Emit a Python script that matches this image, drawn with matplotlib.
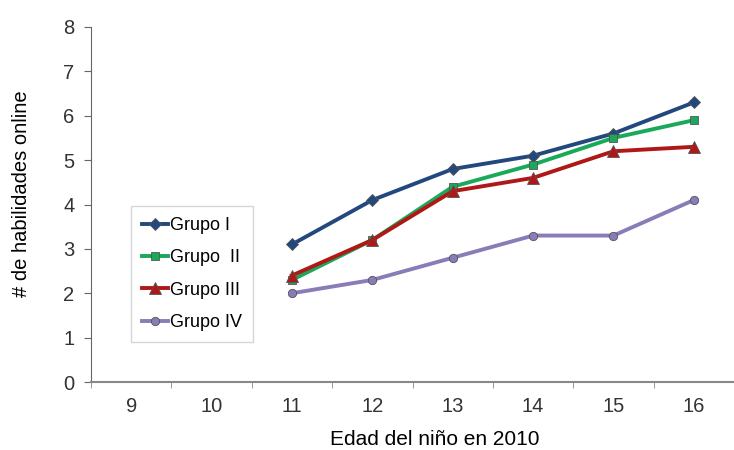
import matplotlib.pyplot as plt
import numpy as np

# Edades (categorías del eje x) y número medio de habilidades por grupo.
edades = ["9", "10", "11", "12", "13", "14", "15", "16"]
edades_grupos = ["11", "12", "13", "14", "15", "16"]
grupo_1 = [3.1, 4.1, 4.8, 5.1, 5.6, 6.3]
grupo_2 = [2.3, 3.2, 4.4, 4.9, 5.5, 5.9]
grupo_3 = [2.4, 3.2, 4.3, 4.6, 5.2, 5.3]
grupo_4 = [2.0, 2.3, 2.8, 3.3, 3.3, 4.1]
etiquetas = ["Grupo I", "Grupo  II", "Grupo III", "Grupo IV"]


def main() -> None:
    plt.rcParams["font.family"] = ["Liberation Sans", "DejaVu Sans"]

    fig = plt.figure(figsize=(7.34, 4.5), dpi=100)
    ax = fig.add_axes([91 / 734, 68 / 450, 643 / 734, 355 / 450])

    xs = [edades.index(e) for e in edades_grupos]
    series = [
        (grupo_1, "#23487e", "D", 6),
        (grupo_2, "#1aa85a", "s", 6),
        (grupo_3, "#b01818", "^", 8),
        (grupo_4, "#8a7cb6", "o", 6),
    ]
    for (datos, color, marker, ms), label in zip(series, etiquetas):
        ax.plot(
            xs,
            datos,
            color=color,
            lw=2.8,
            marker=marker,
            ms=ms,
            mfc=color,
            mec="#555555",
            mew=0.6,
            label=label,
        )

    ax.set_xlim(-0.5, 7.45)
    ax.set_ylim(0, 8)
    ax.set_yticks(range(0, 9))
    ax.set_xticks(range(len(edades)))
    ax.set_xticklabels(edades)
    ax.set_xticks(np.arange(-0.5, len(edades), 1.0), minor=True)
    ax.tick_params(axis="x", which="major", length=0, pad=11, labelsize=14.5, colors="#333333")
    ax.tick_params(axis="x", which="minor", length=4, color="#888888")
    ax.tick_params(axis="y", length=5, color="#666666", pad=7, labelsize=14.5, labelcolor="#333333")

    for side in ["top", "right"]:
        ax.spines[side].set_visible(False)
    ax.spines["left"].set_color("#666666")
    ax.spines["bottom"].set_color("#888888")
    ax.spines["bottom"].set_linewidth(1.5)

    ax.set_xlabel("Edad del niño en 2010", fontsize=15)
    ax.xaxis.set_label_coords((435 - 91) / 643, -0.135)
    ax.set_ylabel("# de habilidades online", fontsize=14.5)
    ax.yaxis.set_label_coords(-0.094, 0.53)

    leg = ax.legend(
        loc="lower left",
        bbox_to_anchor=(0.062, 0.113),
        prop={"size": 13},
        frameon=True,
        fancybox=False,
        edgecolor="#cccccc",
        handlelength=1.45,
        handletextpad=0.1,
        labelspacing=0.85,
        borderpad=0.6,
        borderaxespad=0,
    )
    leg.get_frame().set_linewidth(1.0)

    fig.savefig("out.png", dpi=100)


if __name__ == "__main__":
    main()
